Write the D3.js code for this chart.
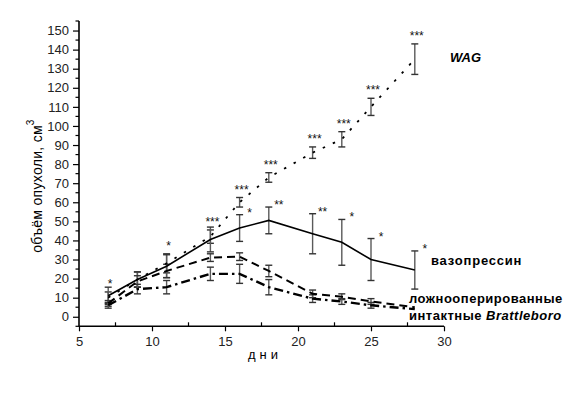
<!DOCTYPE html>
<html>
<head>
<meta charset="utf-8">
<script src="https://cdn.jsdelivr.net/npm/d3@7/dist/d3.min.js"></script>
<style>
  body { margin: 0; background: #fff; }
  svg { display: block; font-family: "Liberation Sans", Arial, sans-serif; }
</style>
</head>
<body>
<svg id="chart" width="580" height="395"></svg>
<script>
// days of measurement
var days = [7, 9, 11, 14, 16, 18, 21, 23, 25, 28];

// WAG (dotted)
var wagMean = [10, 19.5, 28, 42, 60, 73, 86, 93, 110, 135];
var wagErr  = [3, 4, 5, 3.5, 2.5, 2.5, 3, 4, 4.5, 8];
var wagStars = ["*", "", "*", "***", "***", "***", "***", "***", "***", "***"];

// vasopressin (solid)
var vasoMean = [11, 19.5, 26.5, 40.5, 46.5, 50.5, 43.5, 39, 30, 24.5];
var vasoErr  = [4.5, 4, 6, 6.5, 7, 7, 10.5, 12, 11, 10];
var vasoStars = ["", "", "", "", "*", "**", "**", "*", "*", "*"];

// sham-operated (dashed)
var shamMean = [7, 18.5, 24, 31, 31.5, 24, 12, 10.5, 8, 5];
var shamErr  = [1.5, 3, 3.5, 2, 2, 3, 2, 1.5, 1.5, 0];

// intact Brattleboro (dash-dot)
var intactMean = [6, 14.5, 15.5, 22.5, 22.5, 15.5, 9.5, 8, 6, 4];
var intactErr  = [1.5, 2.5, 3.5, 3.5, 5, 4, 2, 1.5, 1.5, 0];

var yMajor = d3.range(0, 151, 10);
var yMinor = d3.range(-5, 156, 5).filter(function (v) { return v % 10 !== 0; });
var xMajor = [5, 10, 15, 20, 25, 30];
var xMinor = [7.5, 12.5, 17.5, 22.5, 27.5];

var svg = d3.select("#chart");

var x = d3.scaleLinear().domain([5, 30]).range([79, 444]);
var y = d3.scaleLinear().domain([-5, 155]).range([326.3, 21]);

var series = [
    {mean: wagMean, err: wagErr, dash: "2.5,8.5", width: 1.8},
    {mean: vasoMean, err: vasoErr, dash: null, width: 1.6},
    {mean: shamMean, err: shamErr, dash: "8,5", width: 2},
    {mean: intactMean, err: intactErr, dash: "9,4,2.5,4", width: 2.4}
];

// axes
var yAxis = svg.append("g").attr("transform", "translate(79,0)");
yAxis.call(d3.axisLeft(y).tickValues(yMajor).tickSize(6).tickPadding(4))
    .call(function (g) { g.select(".domain").remove(); });
yAxis.selectAll(".tick line").attr("stroke", "#000").attr("stroke-width", 1.2);
yAxis.selectAll("text").attr("font-size", 13).attr("fill", "#222");
yAxis.append("g").selectAll("line").data(yMinor).join("line")
    .attr("x1", -3.5).attr("x2", 0)
    .attr("y1", function (d) { return y(d); }).attr("y2", function (d) { return y(d); })
    .attr("stroke", "#000").attr("stroke-width", 1.2);
yAxis.append("line").attr("x1", 0).attr("x2", 0)
    .attr("y1", y(155)).attr("y2", y(-5)).attr("stroke", "#000").attr("stroke-width", 1.6);

var xAxis = svg.append("g").attr("transform", "translate(0," + y(-5) + ")");
xAxis.call(d3.axisBottom(x).tickValues(xMajor).tickSize(5).tickPadding(5))
    .call(function (g) { g.select(".domain").remove(); });
xAxis.selectAll(".tick line").attr("stroke", "#000").attr("stroke-width", 1.2);
xAxis.selectAll("text").attr("font-size", 13).attr("fill", "#222");
xAxis.append("g").selectAll("line").data(xMinor).join("line")
    .attr("x1", function (d) { return x(d); }).attr("x2", function (d) { return x(d); })
    .attr("y1", -4).attr("y2", 0)
    .attr("stroke", "#000").attr("stroke-width", 1.2);
xAxis.append("line").attr("x1", x(5)).attr("x2", x(30))
    .attr("y1", 0).attr("y2", 0).attr("stroke", "#000").attr("stroke-width", 1.6);

// error bars
series.forEach(function (s) {
    var g = svg.append("g").attr("stroke", "#5a5a5a").attr("stroke-width", 1.4);
    days.forEach(function (d, i) {
        if (!s.err[i]) return;
        var cx = x(d), top = y(s.mean[i] + s.err[i]), bot = y(s.mean[i] - s.err[i]);
        g.append("line").attr("x1", cx).attr("x2", cx).attr("y1", top).attr("y2", bot);
        g.append("line").attr("x1", cx - 3.5).attr("x2", cx + 3.5).attr("y1", top).attr("y2", top)
            .attr("stroke", "#333");
        g.append("line").attr("x1", cx - 3.5).attr("x2", cx + 3.5).attr("y1", bot).attr("y2", bot)
            .attr("stroke", "#333");
    });
});

// lines
series.forEach(function (s) {
    var line = d3.line()
        .x(function (d) { return x(d); })
        .y(function (d, i) { return y(s.mean[i]); });
    svg.append("path")
        .datum(days)
        .attr("fill", "none")
        .attr("stroke", "#000")
        .attr("stroke-width", s.width)
        .attr("stroke-dasharray", s.dash)
        .attr("d", line);
});

// significance stars
svg.append("g").selectAll("text").data(days).join("text")
    .attr("x", function (d) { return x(d) + 2; })
    .attr("y", function (d, i) { return y(wagMean[i] + wagErr[i]) - 4; })
    .attr("text-anchor", "middle")
    .attr("font-size", 12)
    .attr("fill", "#111")
    .text(function (d, i) { return wagStars[i]; });

svg.append("g").selectAll("text").data(days).join("text")
    .attr("x", function (d) { return x(d) + 10; })
    .attr("y", function (d, i) { return y(vasoMean[i] + vasoErr[i]) + 2; })
    .attr("text-anchor", "middle")
    .attr("font-size", 12)
    .attr("fill", "#111")
    .text(function (d, i) { return vasoStars[i]; });

// series labels
svg.append("text").attr("x", 450).attr("y", 62)
    .attr("font-size", 13).attr("font-weight", "bold").attr("font-style", "italic")
    .text("WAG");
svg.append("text").attr("x", 431).attr("y", 265)
    .attr("font-size", 13).attr("font-weight", "bold").attr("letter-spacing", 0.8)
    .text("вазопрессин");
svg.append("text").attr("x", 409).attr("y", 303)
    .attr("font-size", 13).attr("font-weight", "bold").attr("letter-spacing", 0.5)
    .text("ложнооперированные");
var intact = svg.append("text").attr("x", 409).attr("y", 320)
    .attr("font-size", 13).attr("font-weight", "bold").attr("letter-spacing", 0.5);
intact.append("tspan").text("интактные ");
intact.append("tspan").attr("font-style", "italic").text("Brattleboro");

// axis titles
svg.append("text")
    .attr("x", 265).attr("y", 359)
    .attr("text-anchor", "middle")
    .attr("font-size", 13).attr("letter-spacing", 4)
    .text("дни");

var ylab = svg.append("text")
    .attr("transform", "translate(42,186) rotate(-90)")
    .attr("text-anchor", "middle")
    .attr("font-size", 14).attr("letter-spacing", 0.3);
ylab.append("tspan").text("объём опухоли, см");
ylab.append("tspan").attr("font-size", 10).attr("dy", -8).text("3");
</script>
</body>
</html>
